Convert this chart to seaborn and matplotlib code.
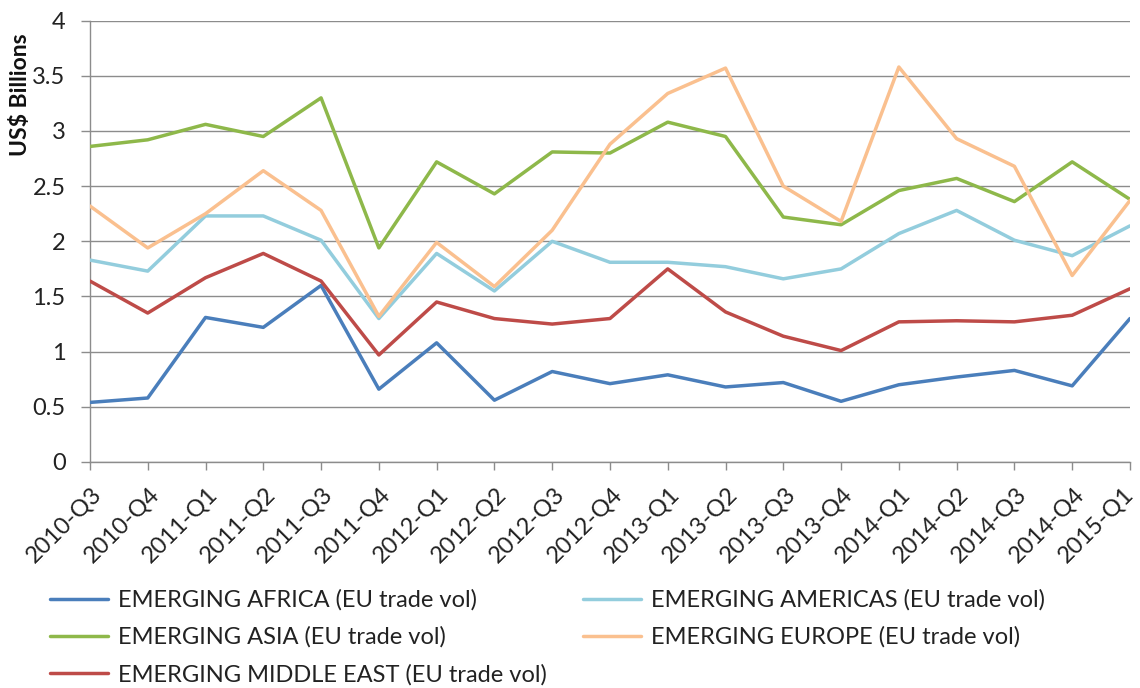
import matplotlib
matplotlib.use("Agg")
import matplotlib.pyplot as plt
import matplotlib.transforms as mtransforms
import seaborn as sns
import pandas as pd
import numpy as np
from matplotlib.ticker import FuncFormatter

quarters = ["2010-Q3", "2010-Q4", "2011-Q1", "2011-Q2", "2011-Q3", "2011-Q4",
            "2012-Q1", "2012-Q2", "2012-Q3", "2012-Q4", "2013-Q1", "2013-Q2",
            "2013-Q3", "2013-Q4", "2014-Q1", "2014-Q2", "2014-Q3", "2014-Q4",
            "2015-Q1"]

africa = [0.54, 0.58, 1.31, 1.22, 1.60, 0.66, 1.08, 0.56, 0.82, 0.71, 0.79,
          0.68, 0.72, 0.55, 0.70, 0.77, 0.83, 0.69, 1.30]
americas = [1.83, 1.73, 2.23, 2.23, 2.01, 1.30, 1.89, 1.55, 2.00, 1.81, 1.81,
            1.77, 1.66, 1.75, 2.07, 2.28, 2.01, 1.87, 2.14]
asia = [2.86, 2.92, 3.06, 2.95, 3.30, 1.94, 2.72, 2.43, 2.81, 2.80, 3.08,
        2.95, 2.22, 2.15, 2.46, 2.57, 2.36, 2.72, 2.38]
europe = [2.32, 1.94, 2.25, 2.64, 2.28, 1.32, 1.99, 1.59, 2.10, 2.88, 3.34,
          3.57, 2.50, 2.18, 3.58, 2.93, 2.68, 1.69, 2.37]
middle_east = [1.64, 1.35, 1.67, 1.89, 1.64, 0.97, 1.45, 1.30, 1.25, 1.30,
               1.75, 1.36, 1.14, 1.01, 1.27, 1.28, 1.27, 1.33, 1.57]

series_names = ["EMERGING AFRICA (EU trade vol)", "EMERGING AMERICAS (EU trade vol)",
                "EMERGING ASIA (EU trade vol)", "EMERGING EUROPE (EU trade vol)",
                "EMERGING MIDDLE EAST (EU trade vol)"]
series_values = [africa, americas, asia, europe, middle_east]
colors = ["#4A7EBB", "#93CDDD", "#8EB84A", "#FAC08F", "#BE4B48"]

rows = []
for name, vals in zip(series_names, series_values):
    for i, v in enumerate(vals):
        rows.append({"idx": i, "value": v, "series": name})
df = pd.DataFrame(rows)

sns.set_style("white")
plt.rcParams["font.family"] = ["Lato", "DejaVu Sans"]

fig = plt.figure(figsize=(11.4, 6.88), dpi=100)
ax = fig.add_axes([0.0789, 0.3285, 0.9123, 0.6415])

sns.lineplot(data=df, x="idx", y="value", hue="series", hue_order=series_names,
             palette=colors, linewidth=2.5, ax=ax, legend=False, zorder=3)

ax.set_xlim(0, len(quarters) - 1)
ax.set_ylim(0, 4)
ax.set_yticks(np.arange(0, 4.01, 0.5))
ax.yaxis.set_major_formatter(FuncFormatter(lambda v, p: f"{v:g}"))
ax.set_xticks(range(len(quarters)))
ax.set_xticklabels(quarters, rotation=45, ha="right", rotation_mode="anchor")

ax.grid(axis="y", color="#8C8C8C", linewidth=1.0, zorder=0)
ax.grid(axis="x", visible=False)
for s in ["top", "right"]:
    ax.spines[s].set_visible(False)
for s in ["left", "bottom"]:
    ax.spines[s].set_color("#8C8C8C")
    ax.spines[s].set_linewidth(1.0)
ax.tick_params(axis="both", direction="out", width=1.0,
               color="#8C8C8C", labelsize=17, labelcolor="#222222",
               left=True, bottom=True)
ax.tick_params(axis="x", length=5.8, pad=9.5)
ax.tick_params(axis="y", length=6.5, pad=11.0)

xlabels = ax.get_xticklabels()
for k, lbl in enumerate(xlabels):
    dx = 1 if k < len(xlabels) - 1 else -7
    shift = mtransforms.ScaledTranslation(dx / 100, 0, fig.dpi_scale_trans)
    lbl.set_transform(lbl.get_transform() + shift)

ax.set_xlabel("")
ax.set_ylabel("US$ Billions", fontsize=16.5, fontweight="bold", color="#111111")
ax.yaxis.set_label_coords(-0.057, 0.832)

handles = [plt.Line2D([], [], color=c, linewidth=2.5) for c in colors]
leg_kw = dict(loc="upper left", frameon=False, fontsize=17, handlelength=2.45,
              handletextpad=0.42, labelspacing=0.66, borderaxespad=0,
              labelcolor="#222222")
fig.legend([handles[0], handles[2], handles[4]],
           [series_names[0], series_names[2], series_names[4]],
           bbox_to_anchor=(0.036, 0.157), **leg_kw)
fig.legend([handles[1], handles[3]],
           [series_names[1], series_names[3]],
           bbox_to_anchor=(0.503, 0.157), **leg_kw)

fig.savefig("out.png", dpi=100)
